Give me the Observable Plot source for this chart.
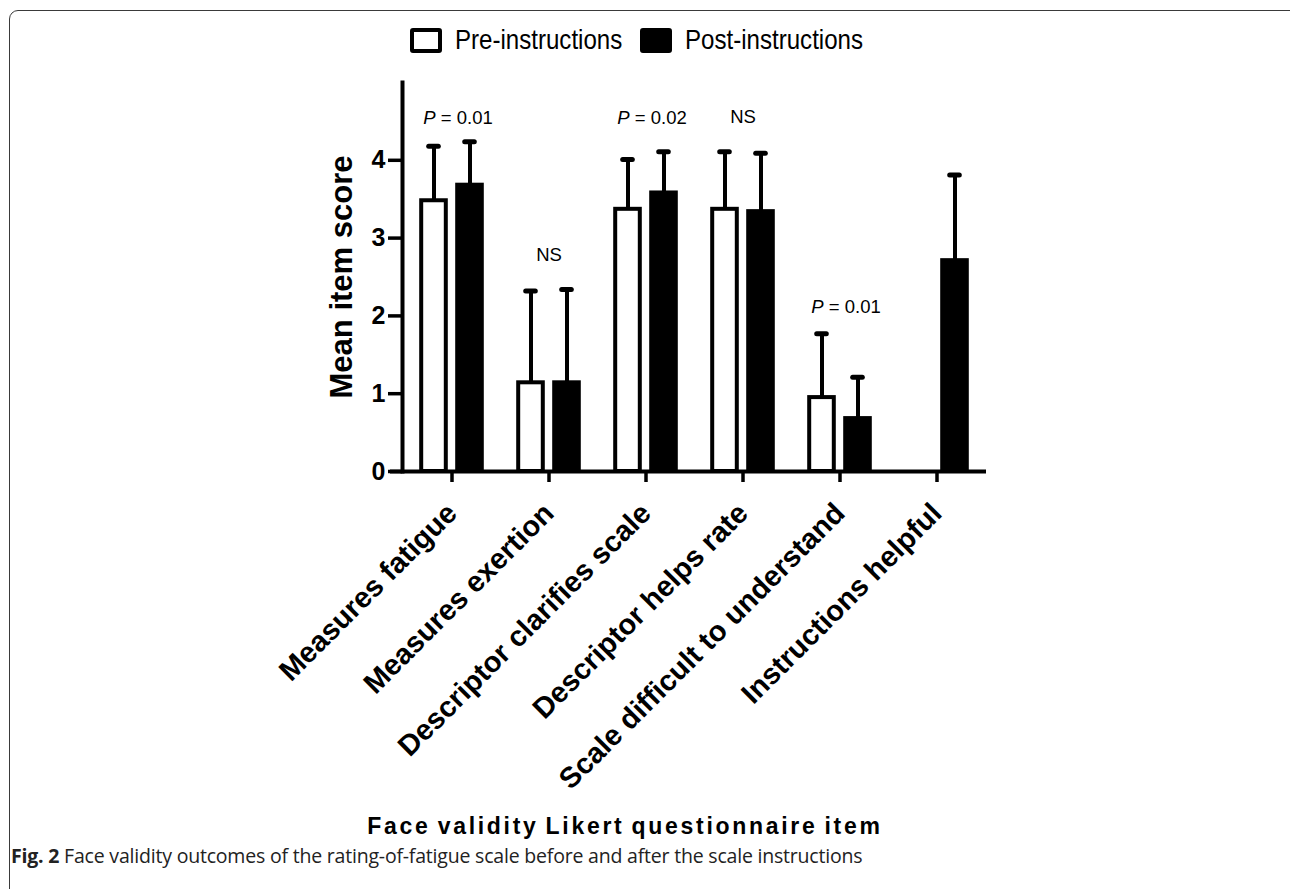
<!DOCTYPE html>
<html>
<head>
<meta charset="utf-8">
<script src="https://cdn.jsdelivr.net/npm/d3@7"></script>
<script src="https://cdn.jsdelivr.net/npm/@observablehq/plot@0.6"></script>
<style>
  html, body { margin: 0; padding: 0; background: #fff; overflow: hidden; }
  #page { position: relative; width: 1290px; height: 889px; font-family: "Liberation Sans", Arial, Helvetica, sans-serif; }
  #border { position: absolute; left: 9px; top: 10px; width: 1300px; height: 900px; border: 1.5px solid #3a3a3a; border-radius: 9px; box-sizing: border-box; }
  #legend { position: absolute; left: 410px; top: 22px; height: 36px; display: flex; align-items: center; white-space: nowrap; }
  .swatch { width: 32px; height: 25px; box-sizing: border-box; border: 4px solid #000; border-radius: 3px; flex: none; }
  .ltext { display: inline-block; font-size: 28px; color: #000; transform: scaleX(0.86); transform-origin: left center; }
  #chart { position: absolute; left: 0; top: 70px; }
  #xtitle { position: absolute; left: 0; width: 1250px; top: 813px; text-align: center; font-size: 23px; font-weight: bold; letter-spacing: 2.7px; word-spacing: -2px; color: #000; }
  #caption { position: absolute; left: 11px; top: 842px; font-family: "Open Sans", sans-serif; font-size: 19.5px; color: #222; letter-spacing: -0.2px; white-space: nowrap; }
  #caption b { font-weight: bold; }
</style>
</head>
<body>
<div id="page">
  <div id="border"></div>
  <div id="legend">
    <div class="swatch" style="background:#fff"></div>
    <span class="ltext" style="margin-left:13px;width:185px">Pre-instructions</span>
    <div class="swatch" style="background:#000"></div>
    <span class="ltext" style="margin-left:13px">Post-instructions</span>
  </div>
  <div id="chart"></div>
  <div id="xtitle">Face validity Likert questionnaire item</div>
  <div id="caption"><b>Fig. 2</b> Face validity outcomes of the rating-of-fatigue scale before and after the scale instructions</div>
</div>
<script>
const categories = ["Measures fatigue", "Measures exertion", "Descriptor clarifies scale", "Descriptor helps rate", "Scale difficult to understand", "Instructions helpful"];
const preMean  = [3.48, 1.14, 3.37, 3.37, 0.95, null];
const preSD    = [0.70, 1.18, 0.64, 0.74, 0.82, null];
const postMean = [3.68, 1.14, 3.58, 3.34, 0.68, 2.71];
const postSD   = [0.56, 1.20, 0.53, 0.75, 0.53, 1.10];
const yTicks = [0, 1, 2, 3, 4];
const annCategories = ["Measures fatigue", "Measures exertion", "Descriptor clarifies scale", "Descriptor helps rate", "Scale difficult to understand"];
const annTexts = ["P = 0.01", "NS", "P = 0.02", "NS", "P = 0.01"];
const annY = [4.54, 2.78, 4.54, 4.55, 2.11];

const pre = categories.map((c, i) => ({cat: c, mean: preMean[i], sd: preSD[i]})).filter(d => d.mean != null);
const post = categories.map((c, i) => ({cat: c, mean: postMean[i], sd: postSD[i]})).filter(d => d.mean != null);
const ann = annCategories.map((c, i) => ({cat: c, text: annTexts[i], y: annY[i]}));

const SW = 4;
const chart = Plot.plot({
  width: 1290,
  height: 740,
  marginTop: 12,
  marginBottom: 339,
  marginLeft: 402,
  marginRight: 304,
  style: {fontFamily: '"Liberation Sans", Arial, Helvetica, sans-serif', color: "#000", background: "transparent", overflow: "visible"},
  x: {type: "band", domain: categories, padding: 0},
  y: {domain: [0, 5]},
  marks: [
    // error bar stems
    Plot.ruleX(pre, {x: "cat", y1: "mean", y2: d => d.mean + d.sd, dx: -18, stroke: "#000", strokeWidth: SW}),
    Plot.ruleX(post, {x: "cat", y1: "mean", y2: d => d.mean + d.sd, dx: 18, stroke: "#000", strokeWidth: SW}),
    // caps
    Plot.tickY(pre, {x: "cat", y: d => d.mean + d.sd, insetLeft: 25.7, insetRight: 61.7, stroke: "#000", strokeWidth: 5, strokeLinecap: "round"}),
    Plot.tickY(post, {x: "cat", y: d => d.mean + d.sd, insetLeft: 61.7, insetRight: 25.7, stroke: "#000", strokeWidth: 5, strokeLinecap: "round"}),
    // bars
    Plot.barY(pre, {x: "cat", y: "mean", insetLeft: 18.2, insetRight: 54.2, fill: "#fff", stroke: "#000", strokeWidth: SW}),
    Plot.barY(post, {x: "cat", y: "mean", insetLeft: 54.2, insetRight: 18.2, fill: "#000", stroke: "#000", strokeWidth: SW}),
    // annotations
    Plot.text(ann.filter(d => d.text.startsWith("P")), {x: "cat", y: "y", text: "text", dx: 6, fontSize: 18.5}),
    Plot.text(ann.filter(d => !d.text.startsWith("P")), {x: "cat", y: "y", text: "text", dx: 0, fontSize: 18.5}),
    // axes
    Plot.ruleY([0], {stroke: "#000", strokeWidth: SW, insetLeft: -12}),
    Plot.frame({anchor: "left", stroke: "#000", strokeWidth: SW}),
    Plot.axisY({ticks: yTicks, tickFormat: d => String(d), tickSize: 14, tickPadding: 3, fontSize: 25, fontWeight: "bold", strokeWidth: 3.5, label: null}),
    Plot.axisX({tickRotate: -45, tickSize: 11, tickPadding: 26, fontSize: 29, fontWeight: "bold", strokeWidth: 3.5, label: null}),
    Plot.text(["Mean item score"], {frameAnchor: "left", textAnchor: "middle", lineAnchor: "middle", rotate: -90, dx: -60, fontSize: 31, fontWeight: "bold"})
  ]
});
document.getElementById("chart").appendChild(chart);

// italic P in significance labels
chart.querySelectorAll("text").forEach(t => {
  const s = t.textContent;
  if (/^P = /.test(s) && t.children.length === 0) {
    t.textContent = "";
    const ns = "http://www.w3.org/2000/svg";
    const a = document.createElementNS(ns, "tspan");
    a.setAttribute("font-style", "italic");
    a.textContent = "P";
    const b = document.createElementNS(ns, "tspan");
    b.textContent = s.slice(1);
    t.appendChild(a); t.appendChild(b);
  }
});
</script>
</body>
</html>
